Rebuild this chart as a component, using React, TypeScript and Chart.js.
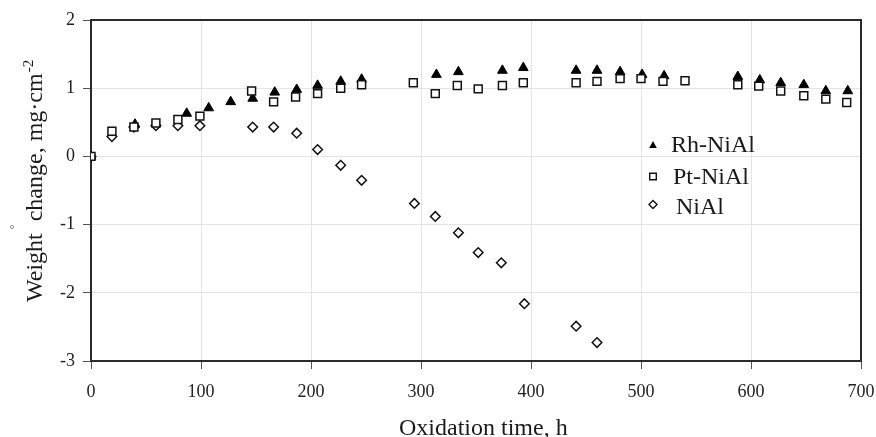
import React, { useEffect, useRef } from 'react';
import { Chart, registerables } from 'chart.js';

Chart.register(...registerables);

const FONT = '"Liberation Serif", "Times New Roman", serif';

// Rh-NiAl (filled triangles)
const rhHours = [0, 40, 87, 107, 127, 147, 167, 187, 206, 227, 246, 314, 334, 374, 393, 441, 460, 481, 501, 521, 588, 608, 627, 648, 668, 688];
const rhWeight = [0, 0.47, 0.63, 0.71, 0.8, 0.85, 0.94, 0.98, 1.04, 1.1, 1.13, 1.2, 1.24, 1.26, 1.3, 1.26, 1.26, 1.24, 1.2, 1.18, 1.17, 1.12, 1.08, 1.05, 0.96, 0.96];

// Pt-NiAl (open squares)
const ptHours = [0, 19, 39, 59, 79, 99, 146, 166, 186, 206, 227, 246, 293, 313, 333, 352, 374, 393, 441, 460, 481, 500, 520, 540, 588, 607, 627, 648, 668, 687];
const ptWeight = [0, 0.37, 0.43, 0.49, 0.54, 0.59, 0.96, 0.8, 0.87, 0.92, 1.0, 1.05, 1.08, 0.92, 1.04, 0.99, 1.04, 1.08, 1.08, 1.1, 1.14, 1.14, 1.1, 1.11, 1.05, 1.03, 0.96, 0.89, 0.84, 0.79];

// NiAl (open diamonds)
const niHours = [0, 19, 39, 59, 79, 99, 147, 166, 187, 206, 227, 246, 294, 313, 334, 352, 373, 394, 441, 460];
const niWeight = [0, 0.29, 0.43, 0.45, 0.45, 0.45, 0.43, 0.43, 0.34, 0.1, -0.13, -0.35, -0.69, -0.88, -1.12, -1.41, -1.56, -2.16, -2.49, -2.73];

const seriesLabels = ['Rh-NiAl', 'Pt-NiAl', 'NiAl'];
const xTitle = 'Oxidation time, h';
const yTitle = 'Weight  change, mg·cm';
const yTitleSup = '-2';

const xMin = 0, xMax = 700, xStep = 100;
const yMin = -3, yMax = 2, yStep = 1;

const toPoints = (xs: number[], ys: number[]) => xs.map((x, i) => ({ x, y: ys[i] }));

function drawMarker(ctx: CanvasRenderingContext2D, kind: string, x: number, y: number) {
  ctx.save();
  ctx.lineWidth = 1.4;
  ctx.strokeStyle = '#111';
  ctx.fillStyle = '#fff';
  ctx.beginPath();
  if (kind === 'triangle') {
    ctx.fillStyle = '#000';
    ctx.moveTo(x, y - 4);
    ctx.lineTo(x + 3.8, y + 3);
    ctx.lineTo(x - 3.8, y + 3);
    ctx.closePath();
    ctx.fill();
  } else if (kind === 'rect') {
    ctx.rect(x - 3.3, y - 3.3, 6.6, 6.6);
    ctx.fill();
    ctx.stroke();
  } else {
    ctx.moveTo(x, y - 4);
    ctx.lineTo(x + 4, y);
    ctx.lineTo(x, y + 4);
    ctx.lineTo(x - 4, y);
    ctx.closePath();
    ctx.fill();
    ctx.stroke();
  }
  ctx.restore();
}

const framePlugin = {
  id: 'frameAndText',
  beforeDatasetsDraw(chart: any) {
    const { ctx, chartArea } = chart;
    ctx.save();
    ctx.strokeStyle = '#2a2a2a';
    ctx.lineWidth = 2;
    ctx.strokeRect(chartArea.left, chartArea.top, chartArea.right - chartArea.left, chartArea.bottom - chartArea.top);
    ctx.restore();
  },
  afterDraw(chart: any) {
    const { ctx } = chart;
    ctx.save();
    ctx.fillStyle = '#1a1a1a';
    // x title
    ctx.font = `24px ${FONT}`;
    ctx.textAlign = 'left';
    ctx.textBaseline = 'alphabetic';
    ctx.fillText(xTitle, 399, 435);
    // y title
    ctx.save();
    ctx.translate(42, 302);
    ctx.rotate(-Math.PI / 2);
    ctx.font = `24px ${FONT}`;
    ctx.fillText(yTitle, 0, 0);
    const w = ctx.measureText(yTitle).width;
    ctx.font = `15px ${FONT}`;
    ctx.fillText(yTitleSup, w + 1, -9);
    ctx.restore();
    // stray degree mark
    ctx.beginPath();
    ctx.strokeStyle = '#777';
    ctx.lineWidth = 0.8;
    ctx.arc(12, 227, 1.6, 0, Math.PI * 2);
    ctx.stroke();
    // legend
    const rows = [
      { kind: 'triangle', mx: 653, my: 145, tx: 671, ty: 151.5 },
      { kind: 'rect', mx: 653, my: 176.5, tx: 673, ty: 184 },
      { kind: 'rectRot', mx: 653, my: 204.5, tx: 676, ty: 214 },
    ];
    chart.data.datasets.forEach((ds: any, i: number) => {
      const r = rows[i];
      drawMarker(ctx, r.kind, r.mx, r.my);
      ctx.fillStyle = '#1a1a1a';
      ctx.font = `24px ${FONT}`;
      ctx.textAlign = 'left';
      ctx.textBaseline = 'alphabetic';
      ctx.fillText(ds.label, r.tx, r.ty);
    });
    ctx.restore();
  },
};

export default function App() {
  const ref = useRef<HTMLCanvasElement>(null);
  useEffect(() => {
    const canvas = ref.current!;
    const chart = new Chart(canvas, {
      type: 'scatter',
      data: {
        datasets: [
          {
            label: seriesLabels[0],
            data: toPoints(rhHours, rhWeight),
            pointStyle: 'triangle',
            pointRadius: 5.6,
            backgroundColor: '#000',
            borderColor: '#000',
            borderWidth: 1,
            order: 1,
          },
          {
            label: seriesLabels[1],
            data: toPoints(ptHours, ptWeight),
            pointStyle: 'rect',
            pointRadius: 5.6,
            backgroundColor: '#fff',
            borderColor: '#111',
            borderWidth: 1.5,
            order: 0,
          },
          {
            label: seriesLabels[2],
            data: toPoints(niHours, niWeight),
            pointStyle: 'rectRot',
            pointRadius: 4.8,
            backgroundColor: '#fff',
            borderColor: '#111',
            borderWidth: 1.5,
            order: 2,
          },
        ],
      },
      options: {
        animation: false,
        responsive: false,
        layout: { padding: { top: 20, right: 15, bottom: 0, left: 0 } },
        plugins: { legend: { display: false }, tooltip: { enabled: false } },
        scales: {
          x: {
            type: 'linear',
            min: xMin,
            max: xMax,
            afterFit: (s: any) => { s.height = 76; s.paddingLeft = 0; s.paddingRight = 0; },
            ticks: { stepSize: xStep, font: { family: FONT, size: 18 }, color: '#222', padding: 12, maxRotation: 0 },
            grid: { color: '#e4e4e4', lineWidth: 1, tickLength: 8, tickColor: '#555', tickWidth: 1 },
            border: { display: false },
          },
          y: {
            type: 'linear',
            min: yMin,
            max: yMax,
            afterFit: (s: any) => { s.width = 91; s.paddingTop = 0; s.paddingBottom = 0; },
            ticks: { stepSize: yStep, font: { family: FONT, size: 18 }, color: '#222', padding: 8 },
            grid: { color: '#e4e4e4', lineWidth: 1, tickLength: 8, tickColor: '#555', tickWidth: 1 },
            border: { display: false },
          },
        },
      },
      plugins: [framePlugin],
    } as any);
    return () => chart.destroy();
  }, []);
  return (
    <div style={{ position: 'fixed', left: 0, top: 0, width: 876, height: 437, background: '#fff' }}>
      <canvas ref={ref} width={876} height={437} style={{ display: 'block' }} />
    </div>
  );
}
